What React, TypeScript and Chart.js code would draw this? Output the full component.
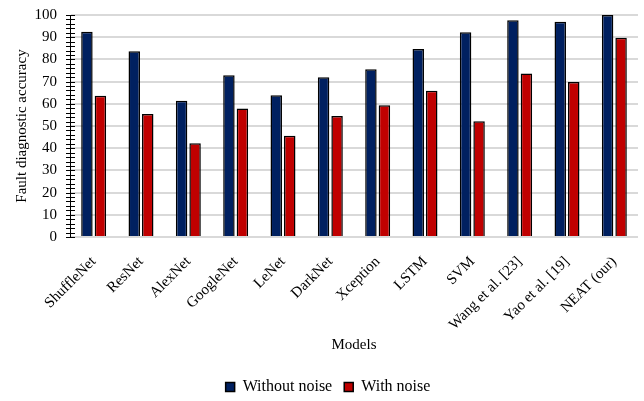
import React, { useEffect, useRef } from "react";
import { Chart, registerables } from "chart.js";

Chart.register(...registerables);

const models = [
  "ShuffleNet",
  "ResNet",
  "AlexNet",
  "GoogleNet",
  "LeNet",
  "DarkNet",
  "Xception",
  "LSTM",
  "SVM",
  "Wang et al. [23]",
  "Yao et al. [19]",
  "NEAT (our)",
];

const withoutNoise = [92.5, 83.7, 61.4, 72.9, 63.8, 72.0, 75.6, 84.7, 92.2, 97.6, 97.0, 100];
const withNoise = [63.6, 55.4, 42.2, 57.9, 45.6, 54.5, 59.3, 65.9, 52.1, 73.7, 69.8, 89.7];

const FONT = "'Liberation Serif', 'Times New Roman', serif";

// small cross ticks along the value axis every 2 units
const minorTicks = {
  id: "minorTicks",
  afterDraw(chart: any) {
    const y = chart.scales.y;
    const x0 = chart.chartArea.left;
    const ctx = chart.ctx;
    ctx.save();
    ctx.strokeStyle = "#000";
    ctx.lineWidth = 1;
    for (let v = 0; v <= 100; v += 2) {
      const py = Math.round(y.getPixelForValue(v)) + 0.5;
      ctx.beginPath();
      ctx.moveTo(x0 - 4, py);
      ctx.lineTo(x0 + 5, py);
      ctx.stroke();
    }
    ctx.restore();
  },
};

export default function App() {
  const ref = useRef<HTMLCanvasElement | null>(null);

  useEffect(() => {
    if (!ref.current) return;
    const chart = new Chart(ref.current, {
      type: "bar",
      data: {
        labels: models,
        datasets: [
          {
            label: "Without noise",
            data: withoutNoise,
            backgroundColor: "#002060",
            borderColor: "#000000",
            borderWidth: 1.5,
            categoryPercentage: 0.57,
            barPercentage: 0.85,
          },
          {
            label: "With noise",
            data: withNoise,
            backgroundColor: "#C00000",
            borderColor: "#000000",
            borderWidth: 1.5,
            categoryPercentage: 0.57,
            barPercentage: 0.85,
          },
        ],
      },
      options: {
        animation: false,
        responsive: false,
        maintainAspectRatio: false,
        layout: { padding: { top: 15, right: 6, left: 18, bottom: -4 } },
        plugins: {
          tooltip: { enabled: false },
          legend: {
            position: "bottom",
            labels: {
              font: { family: FONT, size: 16 },
              color: "#000",
              boxWidth: 9,
              boxHeight: 9,
              padding: 12,
              useBorderRadius: false,
            },
          },
        },
        scales: {
          x: {
            afterFit(scale: any) {
              scale.height = 130;
              scale.paddingLeft = 0;
              scale.paddingRight = 0;
            },
            grid: { display: false },
            border: { display: false },
            ticks: {
              font: { family: FONT, size: 15 },
              color: "#000",
              autoSkip: false,
              minRotation: 45,
              maxRotation: 45,
              padding: 8,
            },
            title: {
              display: true,
              text: "Models",
              font: { family: FONT, size: 15 },
              color: "#000",
              padding: { top: 4, bottom: 13 },
            },
          },
          y: {
            min: 0,
            max: 100,
            afterFit(scale: any) {
              scale.width = 52;
              scale.paddingTop = 0;
              scale.paddingBottom = 0;
            },
            ticks: {
              stepSize: 10,
              font: { family: FONT, size: 15 },
              color: "#000",
              padding: 13,
            },
            grid: {
              color: "#d9d9d9",
              lineWidth: 2,
              drawTicks: false,
            },
            border: { display: true, color: "#000", width: 1 },
            title: {
              display: true,
              text: "Fault diagnostic accuracy",
              font: { family: FONT, size: 15 },
              color: "#000",
              padding: { top: -5, bottom: 0 },
            },
          },
        },
      },
      plugins: [minorTicks],
    });
    return () => chart.destroy();
  }, []);

  return (
    <div style={{ position: "fixed", left: 0, top: 0, width: 644, height: 401, background: "#fff" }}>
      <canvas ref={ref} width={644} height={401} />
    </div>
  );
}
